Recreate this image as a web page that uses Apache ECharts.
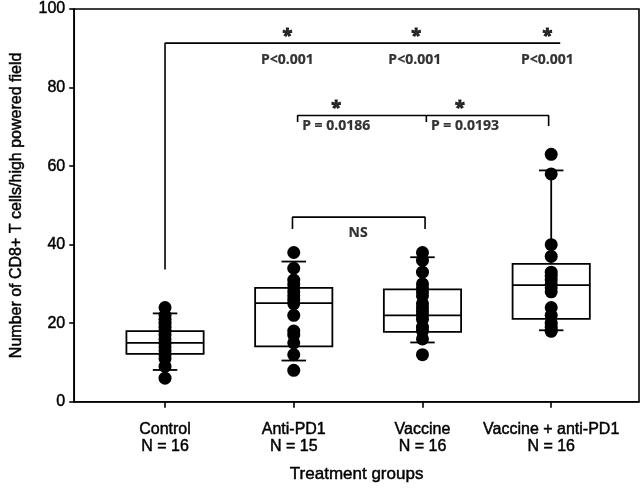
<!DOCTYPE html>
<html>
<head>
<meta charset="utf-8">
<script src="https://cdn.jsdelivr.net/npm/echarts@6/dist/echarts.min.js"></script>
<style>html,body{margin:0;padding:0;background:#fff}#c{width:643px;height:488px}</style>
</head>
<body>
<div id="c"></div>
<script>
// ---- data ----
const categories = ['Control', 'Anti-PD1', 'Vaccine', 'Vaccine + anti-PD1'];
const groupN = [16, 15, 16, 16];
// box stats per group: [lower whisker, Q1, median, Q3, upper whisker]
const boxControl = [8.1, 12.2, 15.0, 18.0, 22.5];
const boxAntiPD1 = [10.5, 14.1, 25.1, 29.0, 35.7];
const boxVaccine = [15.1, 17.8, 22.0, 28.6, 36.8];
const boxCombo   = [18.2, 21.1, 29.7, 35.1, 58.9];
// individual points per group
const ptsControl = [24, 22, 21, 20, 19, 18, 17, 16, 15, 15, 14, 13, 12, 11, 9, 6];
const ptsAntiPD1 = [38, 34, 31, 30, 29, 28, 27, 26, 25, 22, 18, 17, 15, 12, 8];
const ptsVaccine = [38, 36, 33, 30, 29, 28, 27, 25, 24, 23, 22, 21, 19, 18, 16, 12];
const ptsCombo   = [63, 58, 40, 37, 33, 32, 31, 30, 29, 28, 24, 22, 20, 19, 18, 18];
const yTicks = [0, 20, 40, 60, 80, 100];
// significance brackets (in data units: group index, value)
const bracketAll = [[0, 33.7], [0, 91.3], [3.07, 91.3]];
const bracketAnti = [[1.03, 71.2], [1.03, 72.9], [2.98, 72.9], [2.98, 70.2]];
const bracketMid = [[2.03, 72.9], [2.03, 71.2]];
const bracketNS = [[0.99, 44.0], [0.99, 47.0], [2.02, 47.0], [2.02, 44.0]];
const starLabels = [[0.95, 93.0, '*'], [1.95, 93.0, '*'], [2.97, 93.0, '*'], [1.33, 74.6, '*'], [2.29, 74.6, '*']];
const pLabels = [[0.95, 87.0, 'P<0.001'], [1.94, 87.0, 'P<0.001'], [2.97, 87.0, 'P<0.001'],
                 [1.33, 70.2, 'P = 0.0186'], [2.33, 70.2, 'P = 0.0193'], [1.5, 43.0, 'NS']];

const boxes = [boxControl, boxAntiPD1, boxVaccine, boxCombo];
const pts = [ptsControl, ptsAntiPD1, ptsVaccine, ptsCombo];
const boxData = boxes.map((b, i) => [i].concat(b));
const scatterData = [];
pts.forEach((arr, i) => arr.forEach(v => scatterData.push([i, v])));

const chart = echarts.init(document.getElementById('c'), null, {renderer: 'canvas'});
const heavy = {textBorderColor: '#000', textBorderWidth: 0.45};
const lineSeries = (d) => ({
  type: 'line', data: d, symbol: 'none', silent: true, animation: false,
  lineStyle: {color: '#000', width: 1.6}, z: 3
});
const textSeries = (d, size, bw) => ({
  type: 'scatter', data: d, symbolSize: 0, silent: true, animation: false,
  label: {show: true, position: 'inside', formatter: p => p.data[2],
    fontFamily: 'Open Sans', fontWeight: 'bold', fontSize: size, color: '#000',
    textBorderColor: '#000', textBorderWidth: bw},
  z: 4
});

chart.setOption({
  backgroundColor: '#fff',
  animation: false,
  grid: {left: 73, right: 4, top: 9, bottom: 81, show: true, borderColor: '#000', borderWidth: 1.6, backgroundColor: 'transparent'},
  xAxis: {
    type: 'value', min: -0.7054, max: 3.682,
    splitLine: {show: false},
    axisLine: {show: true, onZero: false, lineStyle: {color: '#000', width: 1.6}},
    axisTick: {show: true, customValues: [0, 1, 2, 3], length: 6, lineStyle: {color: '#000', width: 1.6}},
    axisLabel: Object.assign({customValues: [0, 1, 2, 3], margin: 19, lineHeight: 17,
      formatter: v => categories[Math.round(v)] + '\nN = ' + groupN[Math.round(v)],
      fontFamily: 'Liberation Sans', fontSize: 16, color: '#000'}, heavy),
    name: 'Treatment groups', nameLocation: 'middle', nameGap: 64,
    nameTextStyle: Object.assign({fontFamily: 'Liberation Sans', fontSize: 17, color: '#000'}, heavy)
  },
  yAxis: {
    type: 'value', min: 0, max: 100, interval: 20,
    splitLine: {show: false},
    axisLine: {show: true, onZero: false, lineStyle: {color: '#000', width: 1.6}},
    axisTick: {show: true, length: 5, lineStyle: {color: '#000', width: 1.6}},
    axisLabel: Object.assign({margin: 9, fontFamily: 'Liberation Sans', fontSize: 16, color: '#000',
      formatter: v => yTicks.includes(v) ? String(v) : ''}, heavy),
    name: 'Number of CD8+ T cells/high powered field', nameLocation: 'middle', nameGap: 50,
    nameTextStyle: Object.assign({fontFamily: 'Liberation Sans', fontSize: 16, color: '#000'}, heavy)
  },
  series: [
    {
      type: 'custom', data: boxData, z: 2, silent: true,
      renderItem: (params, api) => {
        const x = api.value(0);
        const w = api.size([0.6, 0])[0];
        const cw = api.size([0.19, 0])[0];
        const pMin = api.coord([x, api.value(1)]);
        const pQ1 = api.coord([x, api.value(2)]);
        const pMed = api.coord([x, api.value(3)]);
        const pQ3 = api.coord([x, api.value(4)]);
        const pMax = api.coord([x, api.value(5)]);
        const st = {stroke: '#000', lineWidth: 1.8, fill: null};
        return {type: 'group', children: [
          {type: 'rect', shape: {x: pQ3[0] - w / 2, y: pQ3[1], width: w, height: pQ1[1] - pQ3[1]}, style: {stroke: '#000', lineWidth: 1.8, fill: 'transparent'}},
          {type: 'line', shape: {x1: pMed[0] - w / 2, y1: pMed[1], x2: pMed[0] + w / 2, y2: pMed[1]}, style: st},
          {type: 'line', shape: {x1: pQ3[0], y1: pQ3[1], x2: pMax[0], y2: pMax[1]}, style: st},
          {type: 'line', shape: {x1: pQ1[0], y1: pQ1[1], x2: pMin[0], y2: pMin[1]}, style: st},
          {type: 'line', shape: {x1: pMax[0] - cw / 2, y1: pMax[1], x2: pMax[0] + cw / 2, y2: pMax[1]}, style: st},
          {type: 'line', shape: {x1: pMin[0] - cw / 2, y1: pMin[1], x2: pMin[0] + cw / 2, y2: pMin[1]}, style: st}
        ]};
      }
    },
    {
      type: 'scatter', data: scatterData, symbol: 'circle', symbolSize: 13, z: 3,
      itemStyle: {color: '#000', opacity: 1}
    },
    lineSeries(bracketAll),
    lineSeries(bracketAnti),
    lineSeries(bracketMid),
    lineSeries(bracketNS),
    textSeries(starLabels, 18, 1),
    textSeries(pLabels, 14, 0.2)
  ]
});
</script>
</body>
</html>
